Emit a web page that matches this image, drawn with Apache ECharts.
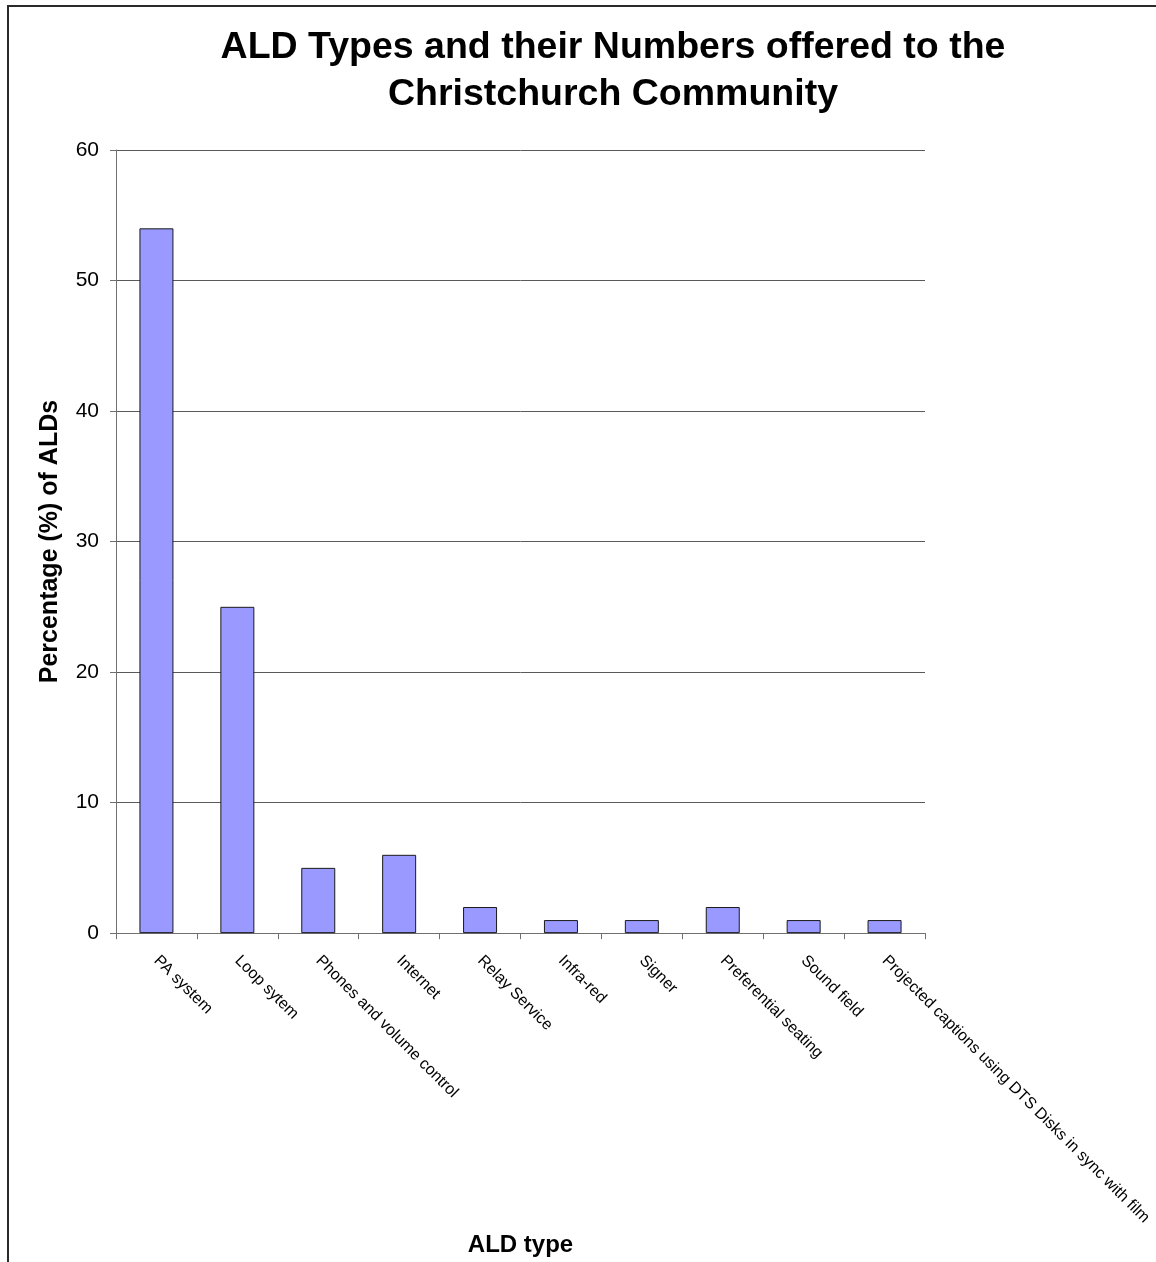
<!DOCTYPE html>
<html>
<head>
<meta charset="utf-8">
<script src="https://cdn.jsdelivr.net/npm/echarts@6/dist/echarts.min.js"></script>
<style>
  html, body { margin: 0; padding: 0; background: #fff; }
  #chart { width: 1156px; height: 1262px; }
</style>
</head>
<body>
<div id="chart"></div>
<script>
// Assistive listening device (ALD) types and their share of all ALDs offered
const categories = [
  'PA system',
  'Loop sytem',
  'Phones and volume control',
  'Internet',
  'Relay Service',
  'Infra-red',
  'Signer',
  'Preferential seating',
  'Sound field',
  'Projected captions using DTS Disks in sync with film'
];
const percentages = [54, 25, 5, 6, 2, 1, 1, 2, 1, 1];
const yTicks = [0, 10, 20, 30, 40, 50, 60];

const font = '"Liberation Sans", Arial, Helvetica, sans-serif';
const chart = echarts.init(document.getElementById('chart'), null, { renderer: 'canvas' });

chart.setOption({
  backgroundColor: '#ffffff',
  animation: false,
  title: {
    text: 'ALD Types and their Numbers offered to the\nChristchurch Community',
    left: 608,
    top: 19,
    textAlign: 'center',
    textStyle: {
      fontFamily: font,
      fontWeight: 'bold',
      fontSize: 37.5,
      lineHeight: 47,
      color: '#000'
    }
  },
  graphic: [{
    type: 'rect',
    shape: { x: 8, y: 6, width: 1400, height: 1400 },
    style: { fill: 'none', stroke: '#2a2a2a', lineWidth: 2 },
    silent: true
  }],
  grid: { left: 116, width: 809, top: 150, height: 786, containLabel: false },
  xAxis: {
    type: 'category',
    data: categories,
    name: 'ALD type',
    nameLocation: 'middle',
    nameGap: 295,
    nameTextStyle: { fontFamily: font, fontWeight: 'bold', fontSize: 24, color: '#000' },
    axisLine: { lineStyle: { color: '#707070', width: 1 } },
    axisTick: { show: true, length: 6, lineStyle: { color: '#707070' } },
    axisLabel: {
      interval: 0,
      rotate: -45,
      margin: 25,
      fontFamily: font,
      fontSize: 16,
      color: '#000'
    }
  },
  yAxis: {
    type: 'value',
    min: yTicks[0],
    max: yTicks[yTicks.length - 1],
    interval: 10,
    name: 'Percentage (%) of ALDs',
    nameLocation: 'middle',
    nameGap: 53,
    nameRotate: 90,
    nameTextStyle: { fontFamily: font, fontWeight: 'bold', fontSize: 25, color: '#000' },
    axisLine: { show: true, lineStyle: { color: '#707070', width: 1 } },
    axisTick: { show: true, length: 6, lineStyle: { color: '#707070' } },
    axisLabel: { margin: 17, fontFamily: font, fontSize: 21, color: '#000' },
    splitLine: { show: true, lineStyle: { color: '#5a5a5a', width: 1 } }
  },
  series: [{
    type: 'bar',
    data: percentages,
    barWidth: 34,
    itemStyle: { color: '#9999FF', borderColor: '#1a1a1a', borderWidth: 1 },
    label: { show: false }
  }]
});
</script>
</body>
</html>
